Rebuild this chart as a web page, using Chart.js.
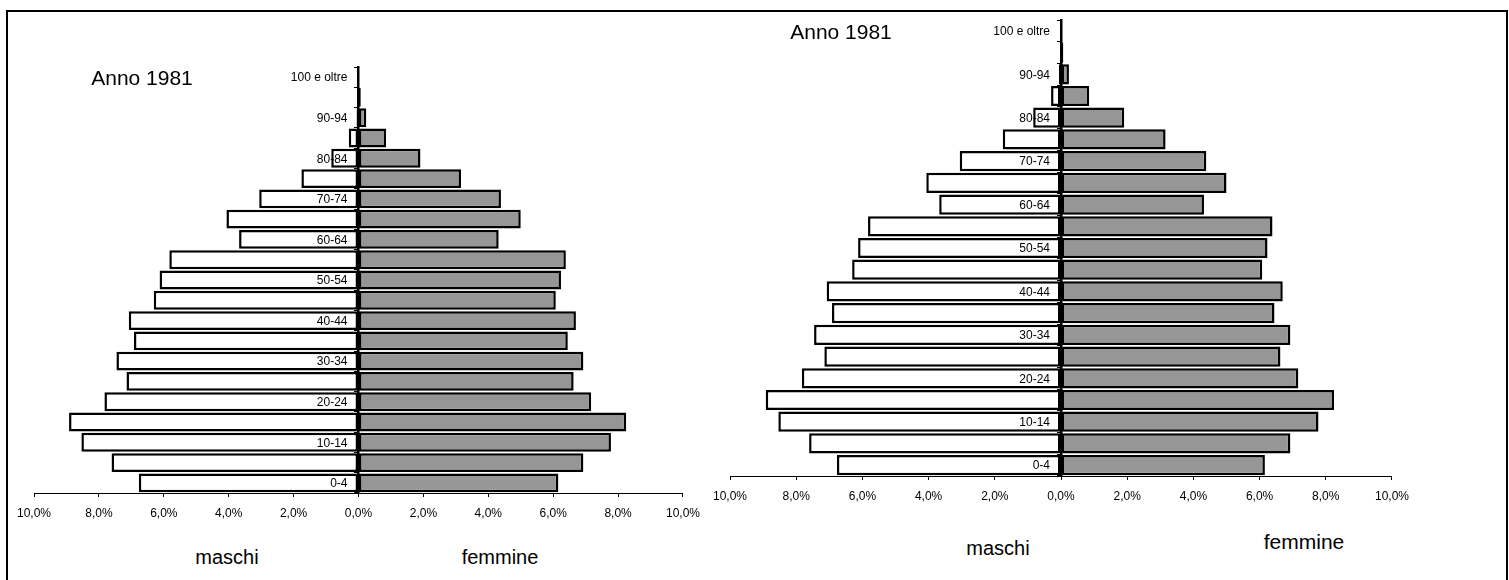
<!DOCTYPE html>
<html>
<head>
<meta charset="utf-8">
<script src="https://cdn.jsdelivr.net/npm/chart.js@4/dist/chart.umd.min.js"></script>
<style>
    body { margin: 0; width: 1509px; height: 580px; overflow: hidden; background: #fff; position: relative; font-family: 'Liberation Sans', Arial, sans-serif; }
    .frame { position: absolute; left: 6px; top: 10px; width: 1498px; height: 600px; border: 2px solid #000; }
    .box { position: absolute; }
    .txt { position: absolute; transform: translate(-50%, -50%); white-space: nowrap; color: #000; }
</style>
</head>
<body>
<div class="frame"></div>
<div class="box" style="left:8px;top:55px;width:701px;height:473px"><canvas id="pyramidLeft"></canvas></div>
<div class="box" style="left:704px;top:8px;width:714px;height:503px"><canvas id="pyramidRight"></canvas></div>

<div class="txt" style="left:142px;top:78px;font-size:21px">Anno 1981</div>
<div class="txt" style="left:841px;top:32px;font-size:21px">Anno 1981</div>
<div class="txt" style="left:227px;top:557px;font-size:20px">maschi</div>
<div class="txt" style="left:500px;top:557px;font-size:20px">femmine</div>
<div class="txt" style="left:998px;top:548px;font-size:20px">maschi</div>
<div class="txt" style="left:1304px;top:542px;font-size:21px">femmine</div>

<script>
// classi di età (dal basso verso l'alto)
const ageGroups = ['0-4', '5-9', '10-14', '15-19', '20-24', '25-29', '30-34', '35-39', '40-44', '45-49',
    '50-54', '55-59', '60-64', '65-69', '70-74', '75-79', '80-84', '85-89', '90-94', '95-99', '100 e oltre'];

// percentuali sul totale, anno 1981
const maschi = [6.77, 7.61, 8.54, 8.92, 7.83, 7.15, 7.46, 6.92, 7.08, 6.31,
    6.13, 5.83, 3.68, 4.07, 3.06, 1.76, 0.84, 0.30, 0.06, 0.02, 0.01];
const femmine = [6.16, 6.93, 7.78, 8.25, 7.17, 6.63, 6.93, 6.45, 6.70, 6.08,
    6.24, 6.39, 4.32, 5.00, 4.39, 3.16, 1.91, 0.85, 0.24, 0.07, 0.01];

// asse x
const xMin = -10;
const xMax = 10;
const xStep = 2;

Chart.defaults.font.family = "'Liberation Sans', Arial, sans-serif";
Chart.defaults.color = '#000';

// etichette delle classi sopra le barre, a sinistra dell'asse verticale
const ageLabelsPlugin = {
    id: 'ageLabels',
    afterDatasetsDraw(chart) {
        const { ctx, scales: { x, y } } = chart;
        const right = x.getPixelForValue(0) - 11;
        ctx.save();
        ctx.font = "12px 'Liberation Sans', Arial, sans-serif";
        ctx.fillStyle = '#000';
        ctx.textAlign = 'right';
        ctx.textBaseline = 'middle';
        y.ticks.forEach((tick, i) => {
            if (i % 2 === 0) {
                ctx.fillText(y.getLabelForValue(tick.value), right, y.getPixelForTick(i) + 1);
            }
        });
        ctx.restore();
    }
};

function createPyramid(canvasId) {
    const ctx = document.getElementById(canvasId).getContext('2d');
    return new Chart(ctx, {
        type: 'bar',
        data: {
            labels: ageGroups,
            datasets: [{
                label: 'maschi',
                data: maschi.map(v => -v),
                backgroundColor: '#ffffff',
                borderColor: '#000000',
                borderWidth: 2.5,
                borderSkipped: false,
                barPercentage: 0.93,
                categoryPercentage: 1
            }, {
                label: 'femmine',
                data: femmine,
                backgroundColor: '#969696',
                borderColor: '#000000',
                borderWidth: 2.5,
                borderSkipped: false,
                barPercentage: 0.93,
                categoryPercentage: 1
            }]
        },
        options: {
            indexAxis: 'y',
            responsive: true,
            maintainAspectRatio: false,
            animation: false,
            layout: {
                padding: { left: 25, right: 25, top: 12, bottom: 5 }
            },
            scales: {
                x: {
                    stacked: true,
                    min: xMin,
                    max: xMax,
                    ticks: {
                        stepSize: xStep,
                        padding: 9,
                        font: { size: 12 },
                        callback: v => Math.abs(v).toFixed(1).replace('.', ',') + '%'
                    },
                    grid: {
                        drawOnChartArea: false,
                        tickLength: 4,
                        color: '#000'
                    },
                    border: { color: '#000', width: 1 },
                    afterFit: scale => { scale.height = 30; }
                },
                y: {
                    stacked: true,
                    reverse: true,
                    position: { x: 0 },
                    ticks: {
                        display: false,
                        autoSkip: false
                    },
                    grid: {
                        drawOnChartArea: false,
                        tickLength: 3,
                        color: '#000',
                        offset: true
                    },
                    border: { color: '#000', width: 2.5 }
                }
            },
            plugins: {
                legend: { display: false },
                tooltip: { enabled: false }
            }
        },
        plugins: [ageLabelsPlugin]
    });
}

createPyramid('pyramidLeft');
createPyramid('pyramidRight');
</script>
</body>
</html>
